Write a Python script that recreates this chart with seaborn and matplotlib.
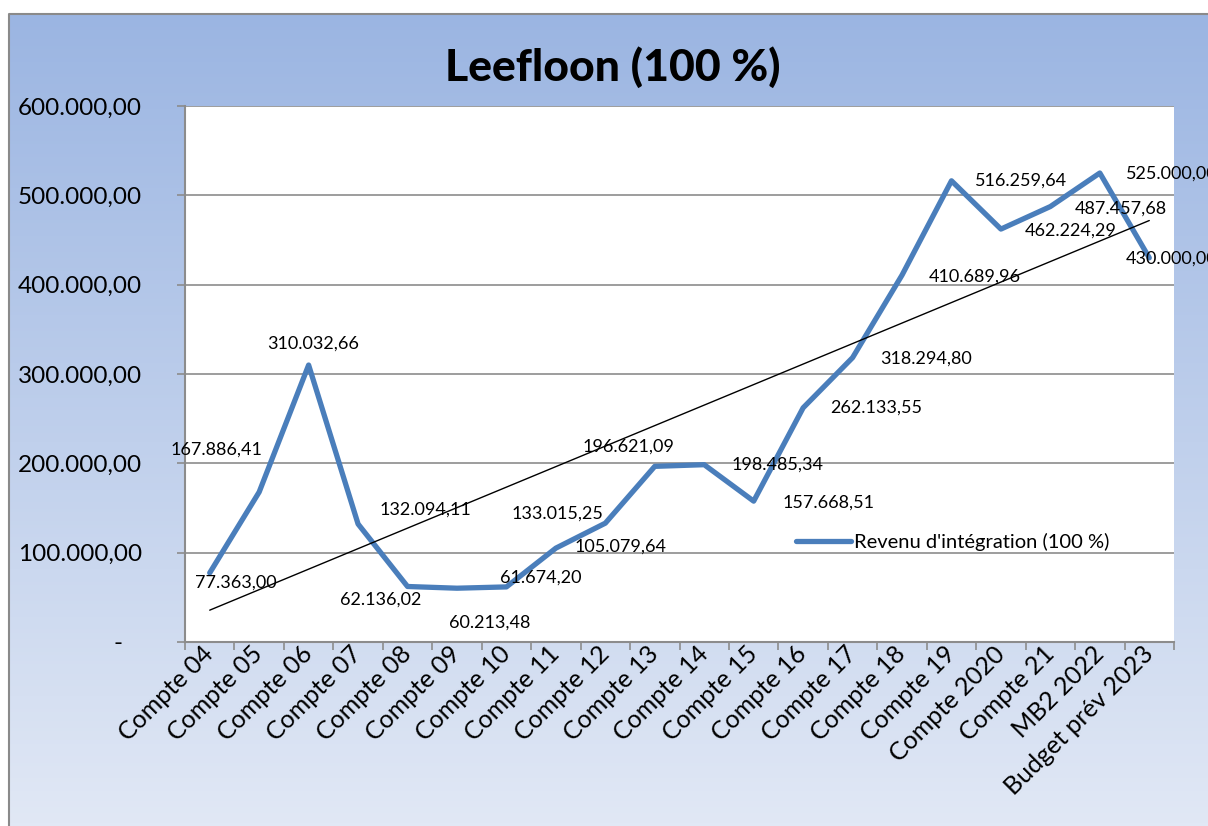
import numpy as np
import pandas as pd
import seaborn as sns
import matplotlib.pyplot as plt
from matplotlib.ticker import FuncFormatter
from matplotlib.colors import LinearSegmentedColormap

# data
periodes = ["Compte 04", "Compte 05", "Compte 06", "Compte 07", "Compte 08",
            "Compte 09", "Compte 10", "Compte 11", "Compte 12", "Compte 13",
            "Compte 14", "Compte 15", "Compte 16", "Compte 17", "Compte 18",
            "Compte 19", "Compte 2020", "Compte 21", "MB2 2022", "Budget prév 2023"]
montants = [77363.00, 167886.41, 310032.66, 132094.11, 62136.02,
            60213.48, 61674.20, 105079.64, 133015.25, 196621.09,
            198485.34, 157668.51, 262133.55, 318294.80, 410689.96,
            516259.64, 462224.29, 487457.68, 525000.00, 430000.00]
serie = "Revenu d'intégration (100 %)"
titre = "Leefloon (100 %)"

# label offsets (pixels) as placed in the original sheet
lbl_dx = [26, -43, 4, 67, -27, 33, 34, 65, -48, -26, 73, 75, 73, 73, 73, 70, 70, 70, 72, 22]
lbl_dy = [-10, 42, 21, 14, -13, -34, 9, 2, 10, 20, 0, -1, 0, -1, -2, 0, -2, -2, -1, -1]


def fmt_eur(v, pos=None):
    if v == 0:
        return "-   "
    s = f"{v:,.2f}"
    return s.replace(",", " ").replace(".", ",").replace(" ", ".")


sns.set_theme(style="white")
plt.rcParams['font.family'] = ['Lato', 'DejaVu Sans']
plt.rcParams['text.color'] = 'black'
plt.rcParams['xtick.labelcolor'] = 'black'
plt.rcParams['ytick.labelcolor'] = 'black'

df = pd.DataFrame({"pos": np.arange(len(periodes)), "montant": montants})

W, H = 1208, 826
fig = plt.figure(figsize=(W / 100, H / 100), dpi=100, facecolor="white")

# gradient chart area
bg = fig.add_axes([0, 0, 1, 1], zorder=-1)
bg.set_xlim(0, W)
bg.set_ylim(H, 0)
bg.axis("off")
cmap = LinearSegmentedColormap.from_list("grad", ["#9bb5e2", "#e1e8f5"])
bg.imshow(np.linspace(0, 1, 256).reshape(-1, 1), cmap=cmap, aspect="auto",
          extent=(9, W, H, 14))
bg.plot([9, 9, W], [H, 14, 14], color="#8a8a8a", lw=1.5)

ax = fig.add_axes([185 / W, (H - 642) / H, 989 / W, 536 / H], facecolor="white")

sns.lineplot(data=df, x="pos", y="montant", ax=ax, color="#4a7ebb", lw=3.8,
             label=serie, solid_capstyle="round")
sns.regplot(data=df, x="pos", y="montant", ax=ax, scatter=False, ci=None,
            color="black", line_kws={"lw": 1.0}, truncate=True)

for i, v in enumerate(montants):
    ax.annotate(fmt_eur(v), (i, v), xytext=(lbl_dx[i], lbl_dy[i]),
                textcoords="offset pixels", ha="center", va="center",
                fontsize=13, color="black", annotation_clip=False)

ax.set_xlim(-0.5, len(periodes) - 0.5)
ax.set_ylim(0, 600000)
ax.set_yticks(np.arange(0, 600001, 100000))
ax.yaxis.set_major_formatter(FuncFormatter(fmt_eur))
ax.grid(axis="y", color="#8c8c8c", lw=1.2)
ax.set_axisbelow(True)

ax.set_xticks(np.arange(len(periodes)))
ax.set_xticklabels(periodes, rotation=45, ha="right", va="center",
                   rotation_mode="anchor")
ax.set_xticks(np.arange(-0.5, len(periodes)), minor=True)
ax.tick_params(axis="x", which="major", length=0, pad=6, labelsize=18,
               labelcolor="black")
ax.tick_params(axis="x", which="minor", length=6, width=1.2, color="#8c8c8c",
               direction="out", bottom=True)
ax.tick_params(axis="y", length=6, width=1.2, color="#8c8c8c", pad=25,
               labelsize=17.5, left=True, labelcolor="black")
ax.set_xlabel("")
ax.set_ylabel("")

for s in ["top", "right"]:
    ax.spines[s].set_visible(False)
for s in ["left", "bottom"]:
    ax.spines[s].set_color("#8c8c8c")
    ax.spines[s].set_linewidth(1.5)

h, l = ax.get_legend_handles_labels()
leg = ax.legend(h[:1], l[:1], loc="center left", bbox_to_anchor=(0.618, 0.187),
                frameon=False, fontsize=14.5, handlelength=2.7,
                handletextpad=0.15, borderpad=0, borderaxespad=0)
for t in leg.get_texts():
    t.set_color("black")

fig.text(613 / W, 1 - 67 / H, titre, ha="center", va="center",
         fontsize=32, fontweight="black", color="black")

fig.savefig("out.png", dpi=100, facecolor="white")
